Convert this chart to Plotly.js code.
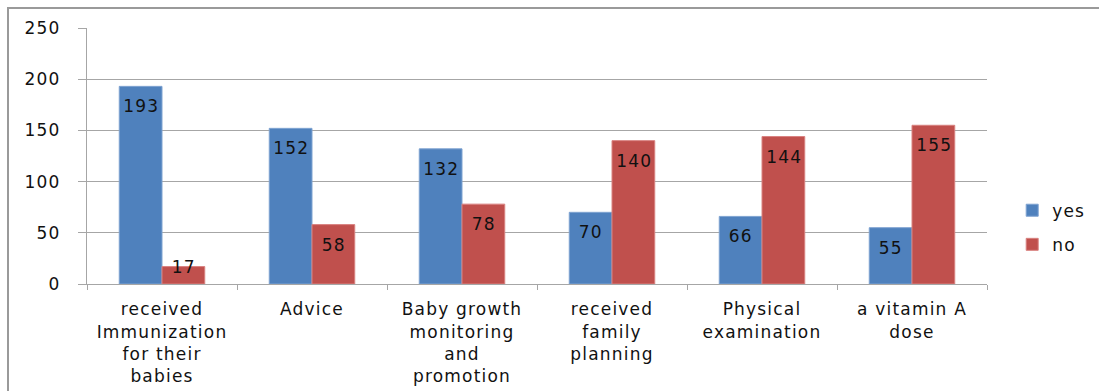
<!DOCTYPE html>
<html>
<head>
<meta charset="utf-8">
<script src="https://cdn.plot.ly/plotly-3.0.1.min.js"></script>
<style>
  html, body { margin: 0; padding: 0; background: #fff; }
  #wrap { position: relative; width: 1099px; height: 391px; overflow: hidden; }
  #chart { position: absolute; left: 0; top: 0; width: 1099px; height: 391px; }
  #chart svg text { letter-spacing: 1.2px; }
  #frame { position: absolute; left: 7px; top: 7px; width: 1200px; height: 500px;
           border: 2px solid #9a9a9a; pointer-events: none; box-sizing: border-box; }
</style>
</head>
<body>
<div id="wrap">
  <div id="chart"></div>
  <div id="frame"></div>
</div>
<script>
// ---- data ----
const categories = [
  "received<br>Immunization<br>for their<br>babies",
  "Advice",
  "Baby growth<br>monitoring<br>and<br>promotion",
  "received<br>family<br>planning",
  "Physical<br>examination",
  "a vitamin A<br>dose"
];
const seriesNames = ["yes", "no"];
const yesValues = [193, 152, 132, 70, 66, 55];
const noValues  = [17, 58, 78, 140, 144, 155];
const yTickVals = [0, 50, 100, 150, 200, 250];

// ---- style ----
const FONT = "DejaVu Sans, Verdana, sans-serif";
const BLUE = "#4F81BD";
const RED  = "#C0504D";
const GRID = "#a6a6a6";

const traces = [
  { type: "bar", name: seriesNames[0], x: categories, y: yesValues,
    marker: { color: BLUE, line: { color: "#7fa3d1", width: 1 } },
    legendgroup: "a", hoverinfo: "y" },
  { type: "bar", name: seriesNames[1], x: categories, y: noValues,
    marker: { color: RED, line: { color: "#d98280", width: 1 } },
    legendgroup: "b", hoverinfo: "y" }
];

// value labels, near the top inside each bar
const annotations = [];
const series = [yesValues, noValues];
const shifts = [-21.5, 21.5];
series.forEach((vals, s) => {
  vals.forEach((v, i) => {
    annotations.push({
      x: categories[i], y: v, xref: "x", yref: "y",
      text: String(v), showarrow: false,
      xshift: shifts[s], yshift: v < 30 ? 0 : -20,
      yanchor: "middle", xanchor: "center",
      font: { family: FONT, size: 17, color: "#111" }
    });
  });
});

const layout = {
  width: 1099, height: 391,
  margin: { l: 87, r: 109, t: 28, b: 107, pad: 0 },
  paper_bgcolor: "#fff", plot_bgcolor: "#fff",
  font: { family: FONT, size: 17, color: "#111" },
  barmode: "group", bargap: 0.43, bargroupgap: 0,
  showlegend: true,
  legend: {
    x: 1.028, xanchor: "left", y: 0.22, yanchor: "middle",
    font: { family: FONT, size: 17, color: "#111" },
    traceorder: "grouped", tracegroupgap: 9,
    bgcolor: "rgba(0,0,0,0)"
  },
  xaxis: {
    type: "category", tickson: "boundaries",
    ticks: "outside", ticklen: 5, tickcolor: GRID, tickwidth: 1,
    showline: true, linecolor: GRID, linewidth: 1,
    showgrid: false, zeroline: false,
    tickfont: { family: FONT, size: 17, color: "#111" },
    ticklabelstandoff: 10,
    fixedrange: true
  },
  yaxis: {
    range: [0, 250], tickvals: yTickVals, ticktext: yTickVals.map(String),
    ticks: "outside", ticklen: 8, tickcolor: GRID, tickwidth: 1,
    showline: true, linecolor: GRID, linewidth: 1,
    showgrid: true, gridcolor: GRID, gridwidth: 1,
    zeroline: false,
    tickfont: { family: FONT, size: 17, color: "#111" },
    ticklabelstandoff: 14,
    fixedrange: true
  },
  annotations: annotations
};

Plotly.newPlot("chart", traces, layout, { displayModeBar: false, staticPlot: true });
</script>
</body>
</html>
